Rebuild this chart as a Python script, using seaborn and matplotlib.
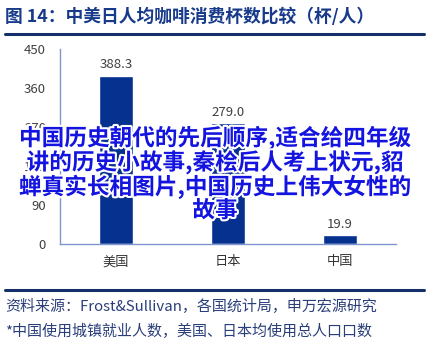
import matplotlib
matplotlib.use("Agg")
import matplotlib.pyplot as plt
import matplotlib.patheffects as pe
import seaborn as sns
import pandas as pd

categories = ["美国", "日本", "中国"]
values = [388.3, 279.0, 19.9]
value_labels = ["388.3", "279.0", "19.9"]
yticks = [0, 90, 180, 270, 360, 450]

title = "图 14：中美日人均咖啡消费杯数比较（杯/人）"
source = "资料来源：Frost&Sullivan，各国统计局，申万宏源研究"
note = "*中国使用城镇就业人数，美国、日本均使用总人口口数"
overlay = ("中国历史朝代的先后顺序,适合给四年级\n讲的历史小故事,秦桧后人考上状元,貂\n"
           "蝉真实长相图片,中国历史上伟大女性的\n故事")

sns.set_theme(style="white")
plt.rcParams['font.family'] = ['Noto Sans CJK SC', 'DejaVu Sans']

W, H = 429, 345
fig = plt.figure(figsize=(W / 100, H / 100), dpi=100)
ax = fig.add_axes([60 / W, 1 - 244 / H, 336 / W, 195 / H])

df = pd.DataFrame({"country": categories, "value": values})
sns.barplot(data=df, x="country", y="value", ax=ax, color="#06318f",
            width=0.31, saturation=1)

ax.set_xlim(-0.5, 2.5)
ax.set_ylim(0, 450)
ax.set_yticks(yticks)
ax.set_xlabel("")
ax.set_ylabel("")
for s in ["top", "right"]:
    ax.spines[s].set_visible(False)
for s in ["left", "bottom"]:
    ax.spines[s].set_color("#8096d0")
    ax.spines[s].set_linewidth(1.0)
ax.set_xticks([-0.5, 0.5, 1.5, 2.5], minor=True)
ax.tick_params(axis="x", which="major", length=0, labelsize=9.5, labelcolor="#333333", pad=8)
ax.tick_params(axis="x", which="minor", length=3, color="#8096d0", direction="out")
ax.tick_params(axis="y", length=4, color="#8096d0", direction="out", labelsize=9.5,
               labelcolor="#404040", pad=6)
ax.set_xticks([0, 1, 2])
ax.set_xticklabels(categories)

for i, (v, lab) in enumerate(zip(values, value_labels)):
    ax.text(i, v + 10, lab, ha="center", va="bottom", fontsize=9.5, color="#404040")

# header
fig.text(5 / W, 1 - 17 / H, title, fontsize=12.8, fontweight="bold", color="#173a8a",
         ha="left", va="center")
fig.add_artist(plt.Line2D([5 / W, 424 / W], [1 - 34 / H, 1 - 34 / H], color="#13306a",
                          linewidth=2.2, transform=fig.transFigure))
fig.add_artist(plt.Line2D([5 / W, 424 / W], [1 - 290 / H, 1 - 290 / H], color="#13306a",
                          linewidth=2.2, transform=fig.transFigure))
fig.text(5 / W, 1 - 307 / H, source, fontsize=10.8, color="#2a3f7a", ha="left", va="center")
fig.text(5 / W, 1 - 331 / H, note, fontsize=10.8, color="#2a3f7a", ha="left", va="center")

fig.text(215 / W, 1 - 174 / H, overlay, fontsize=16.3, fontweight="bold", color="#1414e0",
         ha="center", va="center", linespacing=1.0,
         path_effects=[pe.withStroke(linewidth=3, foreground="white")])

fig.savefig("out.png", dpi=100)
